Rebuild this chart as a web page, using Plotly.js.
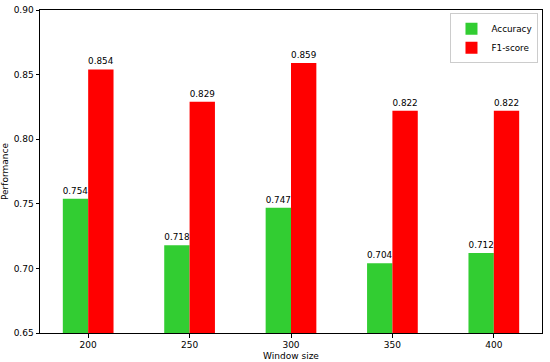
<!DOCTYPE html>
<html>
<head>
<meta charset="utf-8">
<script src="https://cdn.plot.ly/plotly-3.0.1.min.js"></script>
<style>html,body{margin:0;padding:0;background:#fff;}#chart{width:550px;height:362px;}</style>
</head>
<body>
<div id="chart"></div>
<script>
const categories = ["200", "250", "300", "350", "400"];
const accuracy = [0.754, 0.718, 0.747, 0.704, 0.712];
const f1score = [0.854, 0.829, 0.859, 0.822, 0.822];
const yTicks = [0.65, 0.70, 0.75, 0.80, 0.85, 0.90];

const FAM = "DejaVu Sans";
const tickFont = {family: FAM, size: 9, color: "#000"};
const labelFont = {family: FAM, size: 8.8, color: "#000"};
const titleFont = {family: FAM, size: 9, color: "#000"};
const traces = [
  {type: "bar", name: "Accuracy", x: categories, y: accuracy, offset: -0.25, width: 0.25,
   marker: {color: "#32CD32"}, text: accuracy.map(v => v.toFixed(3)), textposition: "outside",
   textfont: labelFont, constraintext: "none", cliponaxis: false},
  {type: "bar", name: "F1-score", x: categories, y: f1score, offset: 0, width: 0.25,
   marker: {color: "#FF0000"}, text: f1score.map(v => v.toFixed(3)), textposition: "outside",
   textfont: labelFont, constraintext: "none", cliponaxis: false}
];
const layout = {
  width: 550, height: 362,
  margin: {l: 40, r: 8, t: 10, b: 29},
  paper_bgcolor: "#fff", plot_bgcolor: "#fff",
  font: labelFont,
  barmode: "overlay",
  showlegend: true,
  legend: {x: 0.993, y: 0.99, xanchor: "right", yanchor: "top", bgcolor: "#fff",
           bordercolor: "#ccc", borderwidth: 1, font: labelFont, tracegroupgap: 0},
  xaxis: {type: "category", range: [-0.475, 4.475], showgrid: false, zeroline: false,
          showline: true, mirror: true, linecolor: "#000", linewidth: 1,
          ticks: "outside", ticklen: 3.5, tickcolor: "#000", tickfont: tickFont,
          title: {text: "Window size", font: titleFont, standoff: 3}},
  yaxis: {range: [0.65, 0.90], tickvals: yTicks, tickformat: ".2f", showgrid: false, zeroline: false,
          showline: true, mirror: true, linecolor: "#000", linewidth: 1,
          ticks: "outside", ticklen: 3.5, tickcolor: "#000", tickfont: tickFont,
          title: {text: "Performance", font: titleFont, standoff: 4}}
};
Plotly.newPlot("chart", traces, layout, {displayModeBar: false, staticPlot: true});
</script>
</body>
</html>
